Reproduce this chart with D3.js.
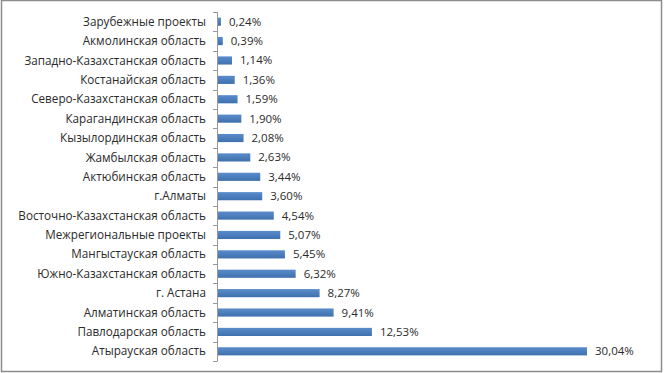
<!DOCTYPE html>
<html>
<head>
<meta charset="utf-8">
<script src="https://cdn.jsdelivr.net/npm/d3@7"></script>
<style>
  body { margin: 0; background: #fff; }
  svg { display: block; }
</style>
</head>
<body>
<svg width="664" height="373"></svg>
<script>
// regions, top to bottom as in the picture
const regions = [
    "Зарубежные проекты",
    "Акмолинская область",
    "Западно-Казахстанская область",
    "Костанайская  область",
    "Северо-Казахстанская область",
    "Карагандинская область",
    "Кызылординская область",
    "Жамбылская область",
    "Актюбинская область",
    "г.Алматы",
    "Восточно-Казахстанская область",
    "Межрегиональные проекты",
    "Мангыстауская область",
    "Южно-Казахстанская область",
    "г. Астана",
    "Алматинская область",
    "Павлодарская область",
    "Атырауская область"
];
const shares = [0.24, 0.39, 1.14, 1.36, 1.59, 1.90, 2.08, 2.63, 3.44, 3.60,
                4.54, 5.07, 5.45, 6.32, 8.27, 9.41, 12.53, 30.04];

const data = regions.map((name, i) => ({ name: name, value: shares[i] }));

const svg = d3.select("svg").style("font-family", "'Open Sans', 'Liberation Sans', sans-serif");

// outer frame
svg.append("rect")
    .attr("x", 1.5).attr("y", 0.5)
    .attr("width", 660).attr("height", 371)
    .attr("fill", "#fff")
    .attr("stroke", "#8c8c8c")
    .attr("stroke-width", 1.5);

const x0 = 218;
const x = d3.scaleLinear()
    .domain([0, d3.max(shares)])
    .range([x0, 587]);

const y = d3.scaleBand()
    .domain(regions)
    .range([12, 361])
    .paddingInner(0.58)
    .paddingOuter(0.29);

const grad = svg.append("defs").append("linearGradient")
    .attr("id", "barFill")
    .attr("x1", 0).attr("y1", 0).attr("x2", 0).attr("y2", 1);
grad.append("stop").attr("offset", "0%").attr("stop-color", "#5a8ccb");
grad.append("stop").attr("offset", "100%").attr("stop-color", "#3f70ae");

svg.append("g")
    .selectAll("rect")
    .data(data)
    .join("rect")
    .attr("x", x0)
    .attr("y", d => y(d.name))
    .attr("width", d => x(d.value) - x0)
    .attr("height", y.bandwidth())
    .attr("fill", "url(#barFill)");

// category axis with ticks between bands
const boundaries = d3.range(regions.length + 1).map(i => 12 + i * (349 / regions.length));
const axis = svg.append("g").attr("stroke", "#999").attr("stroke-width", 1);
axis.append("line")
    .attr("x1", x0 - 0.5).attr("x2", x0 - 0.5)
    .attr("y1", 12).attr("y2", 361);
axis.selectAll("line.tick")
    .data(boundaries)
    .join("line")
    .attr("class", "tick")
    .attr("x1", x0 - 5).attr("x2", x0 - 0.5)
    .attr("y1", d => Math.round(d) + 0.5)
    .attr("y2", d => Math.round(d) + 0.5);

svg.append("g")
    .attr("font-size", 11.7)
    .attr("fill", "#2b2b2b")
    .attr("text-anchor", "end")
    .selectAll("text")
    .data(data)
    .join("text")
    .attr("x", 206)
    .attr("y", d => y(d.name) + y.bandwidth() / 2)
    .attr("dy", "0.35em")
    .text(d => d.name);

svg.append("g")
    .attr("font-size", 11.5)
    .attr("fill", "#2b2b2b")
    .selectAll("text")
    .data(data)
    .join("text")
    .attr("x", d => x(d.value) + 8)
    .attr("y", d => y(d.name) + y.bandwidth() / 2)
    .attr("dy", "0.35em")
    .text(d => d.value.toFixed(2).replace(".", ",") + "%");
</script>
</body>
</html>
